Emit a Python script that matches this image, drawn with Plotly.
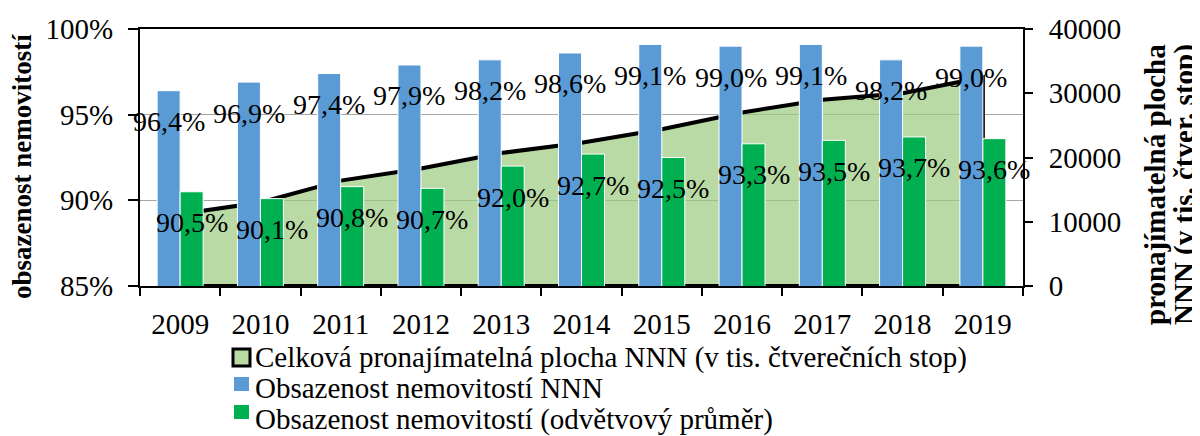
import plotly.graph_objects as go

# ---------------- data ----------------
years = [2009, 2010, 2011, 2012, 2013, 2014, 2015, 2016, 2017, 2018, 2019]
nnn_occupancy = [96.4, 96.9, 97.4, 97.9, 98.2, 98.6, 99.1, 99.0, 99.1, 98.2, 99.0]
industry_occupancy = [90.5, 90.1, 90.8, 90.7, 92.0, 92.7, 92.5, 93.3, 93.5, 93.7, 93.6]
leasable_area = [11200, 13000, 16400, 18300, 20700, 22300, 24400, 27000, 29000, 30000, 32500]

name_area = "Celková pronajímatelná plocha NNN (v tis. čtverečních stop)"
name_nnn = "Obsazenost nemovitostí NNN"
name_ind = "Obsazenost nemovitostí (odvětvový průměr)"
left_title = "obsazenost nemovitostí"
right_title_lines = ["pronajímatelná plocha", "NNN (v tis. čtver. stop)"]

# ---------------- styling ----------------
OFF = 8                      # default page margin of the html body
W, H = 1200 - OFF, 436 - OFF
PL, PR, PT, PB = 140, 1023, 29, 286   # plot box in window pixels
FONT = "Liberation Serif, Times New Roman, serif"
BLUE = "#5B9BD5"
GREEN = "#00B050"
AREA_FILL = "rgba(155,202,125,0.7)"
AREA_SWATCH = "#B9DAA5"
BAR_W = 0.2865  # width of one bar in category units


def px(x):
    return (x - PL) / (PR - PL)


def py(y):
    return (PB - y) / (PB - PT)


def fmt(v):
    return f"{v:.1f}".replace(".", ",") + "%"


fig = go.Figure()

# area (closed polygon so the outline runs round the whole shape)
fig.add_trace(go.Scatter(
    x=years + years[::-1],
    y=leasable_area + [0] * len(years),
    mode="lines",
    fill="toself",
    fillcolor=AREA_FILL,
    line=dict(color="black", width=4),
    name=name_area,
    xaxis="x", yaxis="y",
    showlegend=False,
    hoverinfo="skip",
))

fig.add_trace(go.Bar(
    x=years, y=nnn_occupancy, name=name_nnn,
    width=BAR_W, offset=-BAR_W,
    marker=dict(color=BLUE, line=dict(color="white", width=1)),
    xaxis="x", yaxis="y2", showlegend=False,
))
fig.add_trace(go.Bar(
    x=years, y=industry_occupancy, name=name_ind,
    width=BAR_W, offset=0,
    marker=dict(color=GREEN, line=dict(color="white", width=1)),
    xaxis="x", yaxis="y2", showlegend=False,
))

annotations = []
for yr, v in zip(years, nnn_occupancy):
    annotations.append(dict(x=yr - BAR_W / 2, y=v, xref="x", yref="y2", text=fmt(v),
                            showarrow=False, yshift=-31,
                            font=dict(family=FONT, size=28, color="black")))
for yr, v in zip(years, industry_occupancy):
    annotations.append(dict(x=yr + BAR_W / 2, y=v, xref="x", yref="y2", text=fmt(v),
                            showarrow=False, yshift=-31,
                            font=dict(family=FONT, size=28, color="black")))

# axis titles
annotations.append(dict(x=px(22), y=py(167), xref="paper", yref="paper",
                        text=f"<b>{left_title}</b>", textangle=-90, showarrow=False,
                        xanchor="center", yanchor="middle",
                        font=dict(family=FONT, size=27, color="black")))
for txt, xc in zip(right_title_lines, [1155, 1184]):
    annotations.append(dict(x=px(xc), y=py(185), xref="paper", yref="paper",
                            text=f"<b>{txt}</b>", textangle=-90, showarrow=False,
                            xanchor="center", yanchor="middle",
                            font=dict(family=FONT, size=29, color="black")))

# manual legend
legend_rows = [(name_area, 357), (name_nnn, 388), (name_ind, 419)]
for txt, yc in legend_rows:
    annotations.append(dict(x=px(253), y=py(yc), xref="paper", yref="paper",
                            text=txt, showarrow=False, xanchor="left", yanchor="middle",
                            font=dict(family=FONT, size=29, color="black")))

shapes = [
    dict(type="rect", xref="paper", yref="paper",
         x0=px(233), x1=px(250), y0=py(366), y1=py(349),
         fillcolor=AREA_SWATCH, line=dict(color="black", width=3)),
    dict(type="rect", xref="paper", yref="paper",
         x0=px(234), x1=px(249), y0=py(391), y1=py(377),
         fillcolor=BLUE, line=dict(width=0)),
    dict(type="rect", xref="paper", yref="paper",
         x0=px(234), x1=px(249), y0=py(419), y1=py(405),
         fillcolor=GREEN, line=dict(width=0)),
]

boundaries = [y - 0.5 for y in years] + [years[-1] + 0.5]

fig.update_layout(
    width=W, height=H,
    margin=dict(l=PL - OFF, r=W - (PR - OFF), t=PT - OFF, b=H - (PB - OFF), pad=0,
                autoexpand=False),
    paper_bgcolor="white", plot_bgcolor="white",
    barmode="overlay",
    separators=", ",
    font=dict(family=FONT, size=28, color="black"),
    showlegend=False,
    xaxis=dict(type="linear", range=[years[0] - 0.5, years[-1] + 0.5],
               tickvals=years, ticktext=[str(y) for y in years],
               automargin=False,
               showline=True, linecolor="black", linewidth=2,
               mirror=True, ticks="", showgrid=False, zeroline=False,
               ticklabelstandoff=11,
               minor=dict(tickvals=boundaries, ticks="outside", ticklen=8,
                          tickcolor="black", tickwidth=1.5, showgrid=False),
               tickfont=dict(family=FONT, size=29, color="black")),
    yaxis=dict(range=[0, 40000], dtick=10000, side="right", showgrid=False,
               automargin=False,
               zeroline=False, showline=True, linecolor="black", linewidth=2,
               ticks="outside", ticklen=8, tickcolor="black", tickwidth=1.5,
               tickformat="d", ticklabelstandoff=10,
               tickfont=dict(family=FONT, size=29, color="black")),
    yaxis2=dict(range=[85, 100], dtick=5, side="left", overlaying="y",
                automargin=False,
                showgrid=True, gridcolor="#A6A6A6", gridwidth=1.2,
                zeroline=False, showline=True, linecolor="black", linewidth=2,
                ticks="outside", ticklen=10, tickcolor="black", tickwidth=1.5,
                ticksuffix="%", ticklabelstandoff=9,
                tickfont=dict(family=FONT, size=29, color="black")),
    annotations=annotations,
    shapes=shapes,
)

fig.write_html("out.html")
